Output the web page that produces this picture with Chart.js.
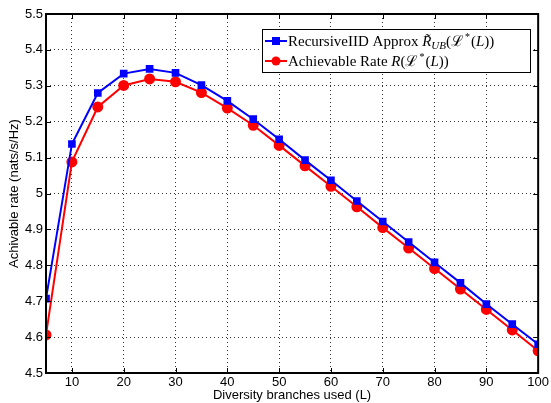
<!DOCTYPE html>
<html>
<head>
<meta charset="utf-8">
<script src="https://cdn.jsdelivr.net/npm/chart.js@4/dist/chart.umd.min.js"></script>
<style>
  html, body { margin: 0; padding: 0; background: #fff; }
  #wrap { width: 551px; height: 403px; }
</style>
</head>
<body>
<div id="wrap"><canvas id="c" width="551" height="403"></canvas></div>
<script>
const branches = [5, 10, 15, 20, 25, 30, 35, 40, 45, 50, 55, 60, 65, 70, 75, 80, 85, 90, 95, 100]
const approxRate = [4.707, 5.138, 5.280, 5.334, 5.347, 5.336, 5.302, 5.258, 5.207, 5.151, 5.093, 5.037, 4.979, 4.922, 4.865, 4.808, 4.751, 4.692, 4.636, 4.580]
const achievRate = [4.606, 5.088, 5.241, 5.301, 5.319, 5.311, 5.281, 5.238, 5.190, 5.134, 5.077, 5.020, 4.963, 4.905, 4.848, 4.791, 4.734, 4.677, 4.620, 4.562]
const xTicks = [10, 20, 30, 40, 50, 60, 70, 80, 90, 100]
const yTicks = [4.5, 4.6, 4.7, 4.8, 4.9, 5, 5.1, 5.2, 5.3, 5.4, 5.5]

// legend text pieces: [text, style] -> n normal, i italic, s script L, b subscript, p superscript
const legendLabels = [
  [['RecursiveIID Approx ', 'n'], ['R\u0303', 'i'], ['UB', 'b'], ['(', 'n'], ['\u2112', 's'], ['*', 'p'], ['(', 'n'], ['L', 'i'], ['))', 'n']],
  [['Achievable Rate ', 'n'], ['R', 'i'], ['(', 'n'], ['\u2112', 's'], ['*', 'p'], ['(', 'n'], ['L', 'i'], ['))', 'n']]
]

const toPts = ys => ys.map((y, i) => ({x: branches[i], y: y}))

const boxPlugin = {
  id: 'boxAndLegend',
  afterDraw(chart) {
    const ctx = chart.ctx
    const a = chart.chartArea
    ctx.save()
    // axes box
    ctx.strokeStyle = '#000'
    ctx.lineWidth = 2
    ctx.strokeRect(a.left, a.top, a.right - a.left, a.bottom - a.top)
    // inward ticks on all four sides
    ctx.lineWidth = 1
    const ys = chart.scales.y, xs = chart.scales.x
    yTicks.forEach(v => {
      const py = Math.round(ys.getPixelForValue(v)) + 0.5
      ctx.beginPath(); ctx.moveTo(a.right, py); ctx.lineTo(a.right - 5, py); ctx.stroke()
      ctx.beginPath(); ctx.moveTo(a.left, py); ctx.lineTo(a.left + 5, py); ctx.stroke()
    })
    xTicks.forEach(v => {
      const px = Math.round(xs.getPixelForValue(v)) + 0.5
      ctx.beginPath(); ctx.moveTo(px, a.top); ctx.lineTo(px, a.top + 5); ctx.stroke()
      ctx.beginPath(); ctx.moveTo(px, a.bottom); ctx.lineTo(px, a.bottom - 5); ctx.stroke()
    })

    // legend
    const lx = 262, ly = 29, lw = 268, lh = 43
    ctx.fillStyle = '#fff'
    ctx.fillRect(lx, ly, lw, lh)
    ctx.strokeStyle = '#000'
    ctx.lineWidth = 1
    ctx.strokeRect(lx + 0.5, ly + 0.5, lw, lh)
    chart.data.datasets.forEach((ds, i) => {
      const cy = ly + 12 + i * 20
      ctx.strokeStyle = ds.borderColor
      ctx.lineWidth = 2
      ctx.beginPath(); ctx.moveTo(lx + 3, cy); ctx.lineTo(lx + 25, cy); ctx.stroke()
      ctx.fillStyle = ds.borderColor
      if (ds.pointStyle === 'rect') {
        ctx.fillRect(lx + 14 - 4, cy - 4, 8, 8)
      } else {
        ctx.beginPath(); ctx.arc(lx + 14, cy, 4.5, 0, Math.PI * 2); ctx.fill()
      }
      ctx.fillStyle = '#000'
      ctx.textBaseline = 'alphabetic'
      let tx = lx + 26
      const base = cy + 5
      legendLabels[i].forEach(([t, s]) => {
        let f = '15px "Liberation Serif"', dy = 0, extra = 0
        if (s === 'i') f = 'italic 15px "Liberation Serif"'
        if (s === 's') { f = '15px "DejaVu Serif"'; extra = 1 }
        if (s === 'b') { f = 'italic 11px "Liberation Serif"'; dy = 3 }
        if (s === 'p') { f = '10px "Liberation Serif"'; dy = -6; extra = 1 }
        ctx.font = f
        ctx.fillText(t, tx, base + dy)
        tx += ctx.measureText(t).width + extra
      })
    })
    ctx.restore()
  }
}

const axisFont = { family: 'Liberation Sans', size: 13 }

new Chart(document.getElementById('c'), {
  type: 'line',
  data: {
    datasets: [{
      label: 'RecursiveIID Approx',
      data: toPts(approxRate),
      borderColor: '#0000ff',
      backgroundColor: '#0000ff',
      borderWidth: 2,
      pointStyle: 'rect',
      pointRadius: 4,
      pointHoverRadius: 4,
      tension: 0
    }, {
      label: 'Achievable Rate',
      data: toPts(achievRate),
      borderColor: '#ff0000',
      backgroundColor: '#ff0000',
      borderWidth: 2,
      pointStyle: 'circle',
      pointRadius: 4.5,
      pointHoverRadius: 4.5,
      tension: 0
    }]
  },
  options: {
    responsive: false,
    animation: false,
    layout: { padding: { top: 14, right: 9, left: 0, bottom: 0 } },
    plugins: { legend: { display: false }, tooltip: { enabled: false } },
    scales: {
      x: {
        type: 'linear',
        min: 5, max: 100,
        afterBuildTicks: s => { s.ticks = xTicks.map(v => ({value: v})) },
        afterFit: s => { s.height = 30 },
        ticks: { color: '#000', font: axisFont, padding: 2, maxRotation: 0 },
        grid: { color: '#333', drawTicks: false, lineWidth: 1 },
        border: { display: false, dash: [1, 3] },
        title: { display: true, text: 'Diversity branches used (L)', color: '#000', font: axisFont, padding: { top: -3, bottom: 0 } }
      },
      y: {
        min: 4.5, max: 5.5,
        afterBuildTicks: s => { s.ticks = yTicks.map(v => ({value: v})) },
        afterFit: s => { s.width = 46 },
        ticks: { color: '#000', font: axisFont, padding: 3, callback: v => String(Number(v.toFixed(1))) },
        grid: { color: '#333', drawTicks: false, lineWidth: 1 },
        border: { display: false, dash: [1, 3] },
        title: { display: true, text: 'Achivable rate (nats/s/Hz)', color: '#000', font: axisFont, padding: { top: 7, bottom: 0 } }
      }
    }
  },
  plugins: [boxPlugin]
})
</script>
</body>
</html>
